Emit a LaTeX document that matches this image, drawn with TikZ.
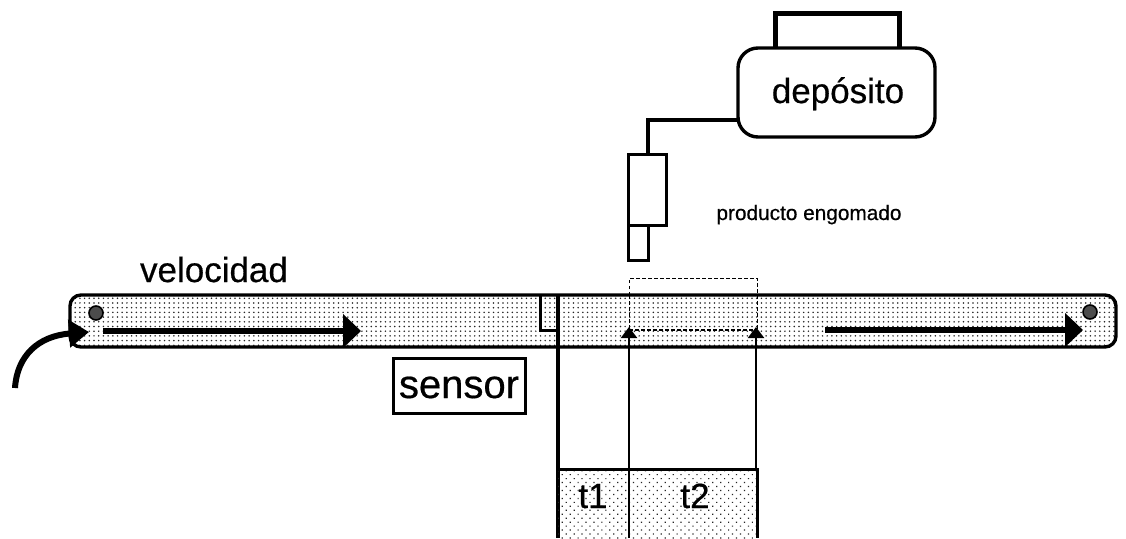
\documentclass[tikz,border=0pt]{standalone}
\usepackage{fontspec}
\setmainfont{Liberation Sans}[FakeBold=0.5]
\usetikzlibrary{patterns.meta,arrows.meta,positioning}
\tikzset{
  x=1pt,y=-1pt,
  ink/.style={draw=black,line cap=butt,line join=miter},
  beltdots/.style={pattern={Dots[radius=0.85pt,distance=4.7pt]},pattern color=black!85},
  tdots/.style={pattern={Dots[radius=0.85pt,distance=5.6pt,angle=45]},pattern color=black!85},
  label35/.style={font=\fontsize{35}{35}\selectfont,inner sep=0pt,anchor=base},
  bigarrow/.style={ink,line width=5.5pt,-{Triangle[length=18pt,width=33pt]}},
  thinarrow/.style={ink,line width=2.4pt,-{Triangle[length=11pt,width=16pt]}},
  screw/.style={circle,draw=black,line width=1.6pt,fill=black!70,minimum size=14pt,inner sep=0pt},
  dashline/.style={draw=black,line width=1pt,dash pattern=on 3.5pt off 2.5pt},
}
\begin{document}
\begin{tikzpicture}
\useasboundingbox (0,0) rectangle (1126,538);
\fill[white] (0,0) rectangle (1126,538);
% belt
\fill[beltdots,rounded corners=11pt] (70,295) rectangle (1116,347);
\draw[ink,line width=3.4pt,rounded corners=11pt] (70,295) rectangle (1116,347);
% coordinates
\coordinate (sTop) at (558,295);
\coordinate (sBot) at (558,538);
\coordinate (a1) at (629,538);
\coordinate (a1t) at (629,327);
\coordinate (a2) at (756,469);
\coordinate (a2t) at (756,327);
\coordinate (curveStart) at (15,388);
\coordinate (curveEnd) at (89,332);
\coordinate (b1s) at (103,331);
\coordinate (b1e) at (361,331);
\coordinate (b2s) at (825,330);
\coordinate (b2e) at (1083,330);
% screws
\node[screw] (screwL) at (96,313) {};
\node[screw] (screwR) at (1090,312) {};
% motion arrows
\draw[bigarrow] (b1s) -- (b1e);
\draw[bigarrow] (b2s) -- (b2e);
\draw[ink,line width=6pt,-{Triangle[length=20pt,width=27pt]}] (curveStart) .. controls (17,356) and (38,336) .. (curveEnd);
% sensor notch
\draw[ink,line width=3pt] (540,295) -- (540,330) -- (558,330);
\draw[ink,line width=3.2pt] (sTop) -- (sBot);
% t box
\fill[tdots] (558,469) rectangle (757,538);
\draw[ink,line width=3pt] (558,469) -- (757,469) -- (757,538);
% dashed outline
\draw[dashline] (629,295) -- (629,278) -- (757,278) -- (757,295);
\draw[dashline] (629,295) -- (629,330);
\draw[dashline] (757,295) -- (757,330);
\draw[dashline,line width=1.6pt] (629,330) -- (757,330);
% timing arrows
\draw[thinarrow] (a1) -- (a1t);
\draw[thinarrow] (a2) -- (a2t);
\node[label35] (t1) at (593,508) {t1};
\node[label35] (t2) at (695,508) {t2};
% labels
\node[label35] (vel) at (214,282) {velocidad};
\node[font=\fontsize{40}{40}\selectfont,inner sep=0pt,anchor=base] (sens) at (459,398) {sensor};
\draw[ink,line width=3pt] (393,358) rectangle (525,413);
% deposit
\draw[ink,line width=5pt] (775,48) -- (775,13) -- (899,13) -- (899,48);
\node[draw=black,fill=white,line width=3.4pt,rounded corners=20pt,minimum width=197pt,minimum height=89pt,inner sep=0pt,outer sep=0pt] (dep) at (836.5,92.5) {};
\node[label35] (deptxt) at (838,103) {depósito};
% nozzle
\node[draw=black,line width=3pt,minimum width=38pt,minimum height=71pt,inner sep=0pt,outer sep=0pt] (noz) at (647,189.5) {};
\node[draw=black,line width=3pt,minimum width=20pt,minimum height=35pt,inner sep=0pt,outer sep=0pt] (tip) at (638,242.5) {};
\draw[ink,line width=4pt] (dep.west |- 0,120) -- (648,120) -- (648,154);
\node[font=\fontsize{20.8}{21}\selectfont,inner sep=0pt,anchor=base] (prod) at (809,220) {producto engomado};
\end{tikzpicture}
\end{document}
